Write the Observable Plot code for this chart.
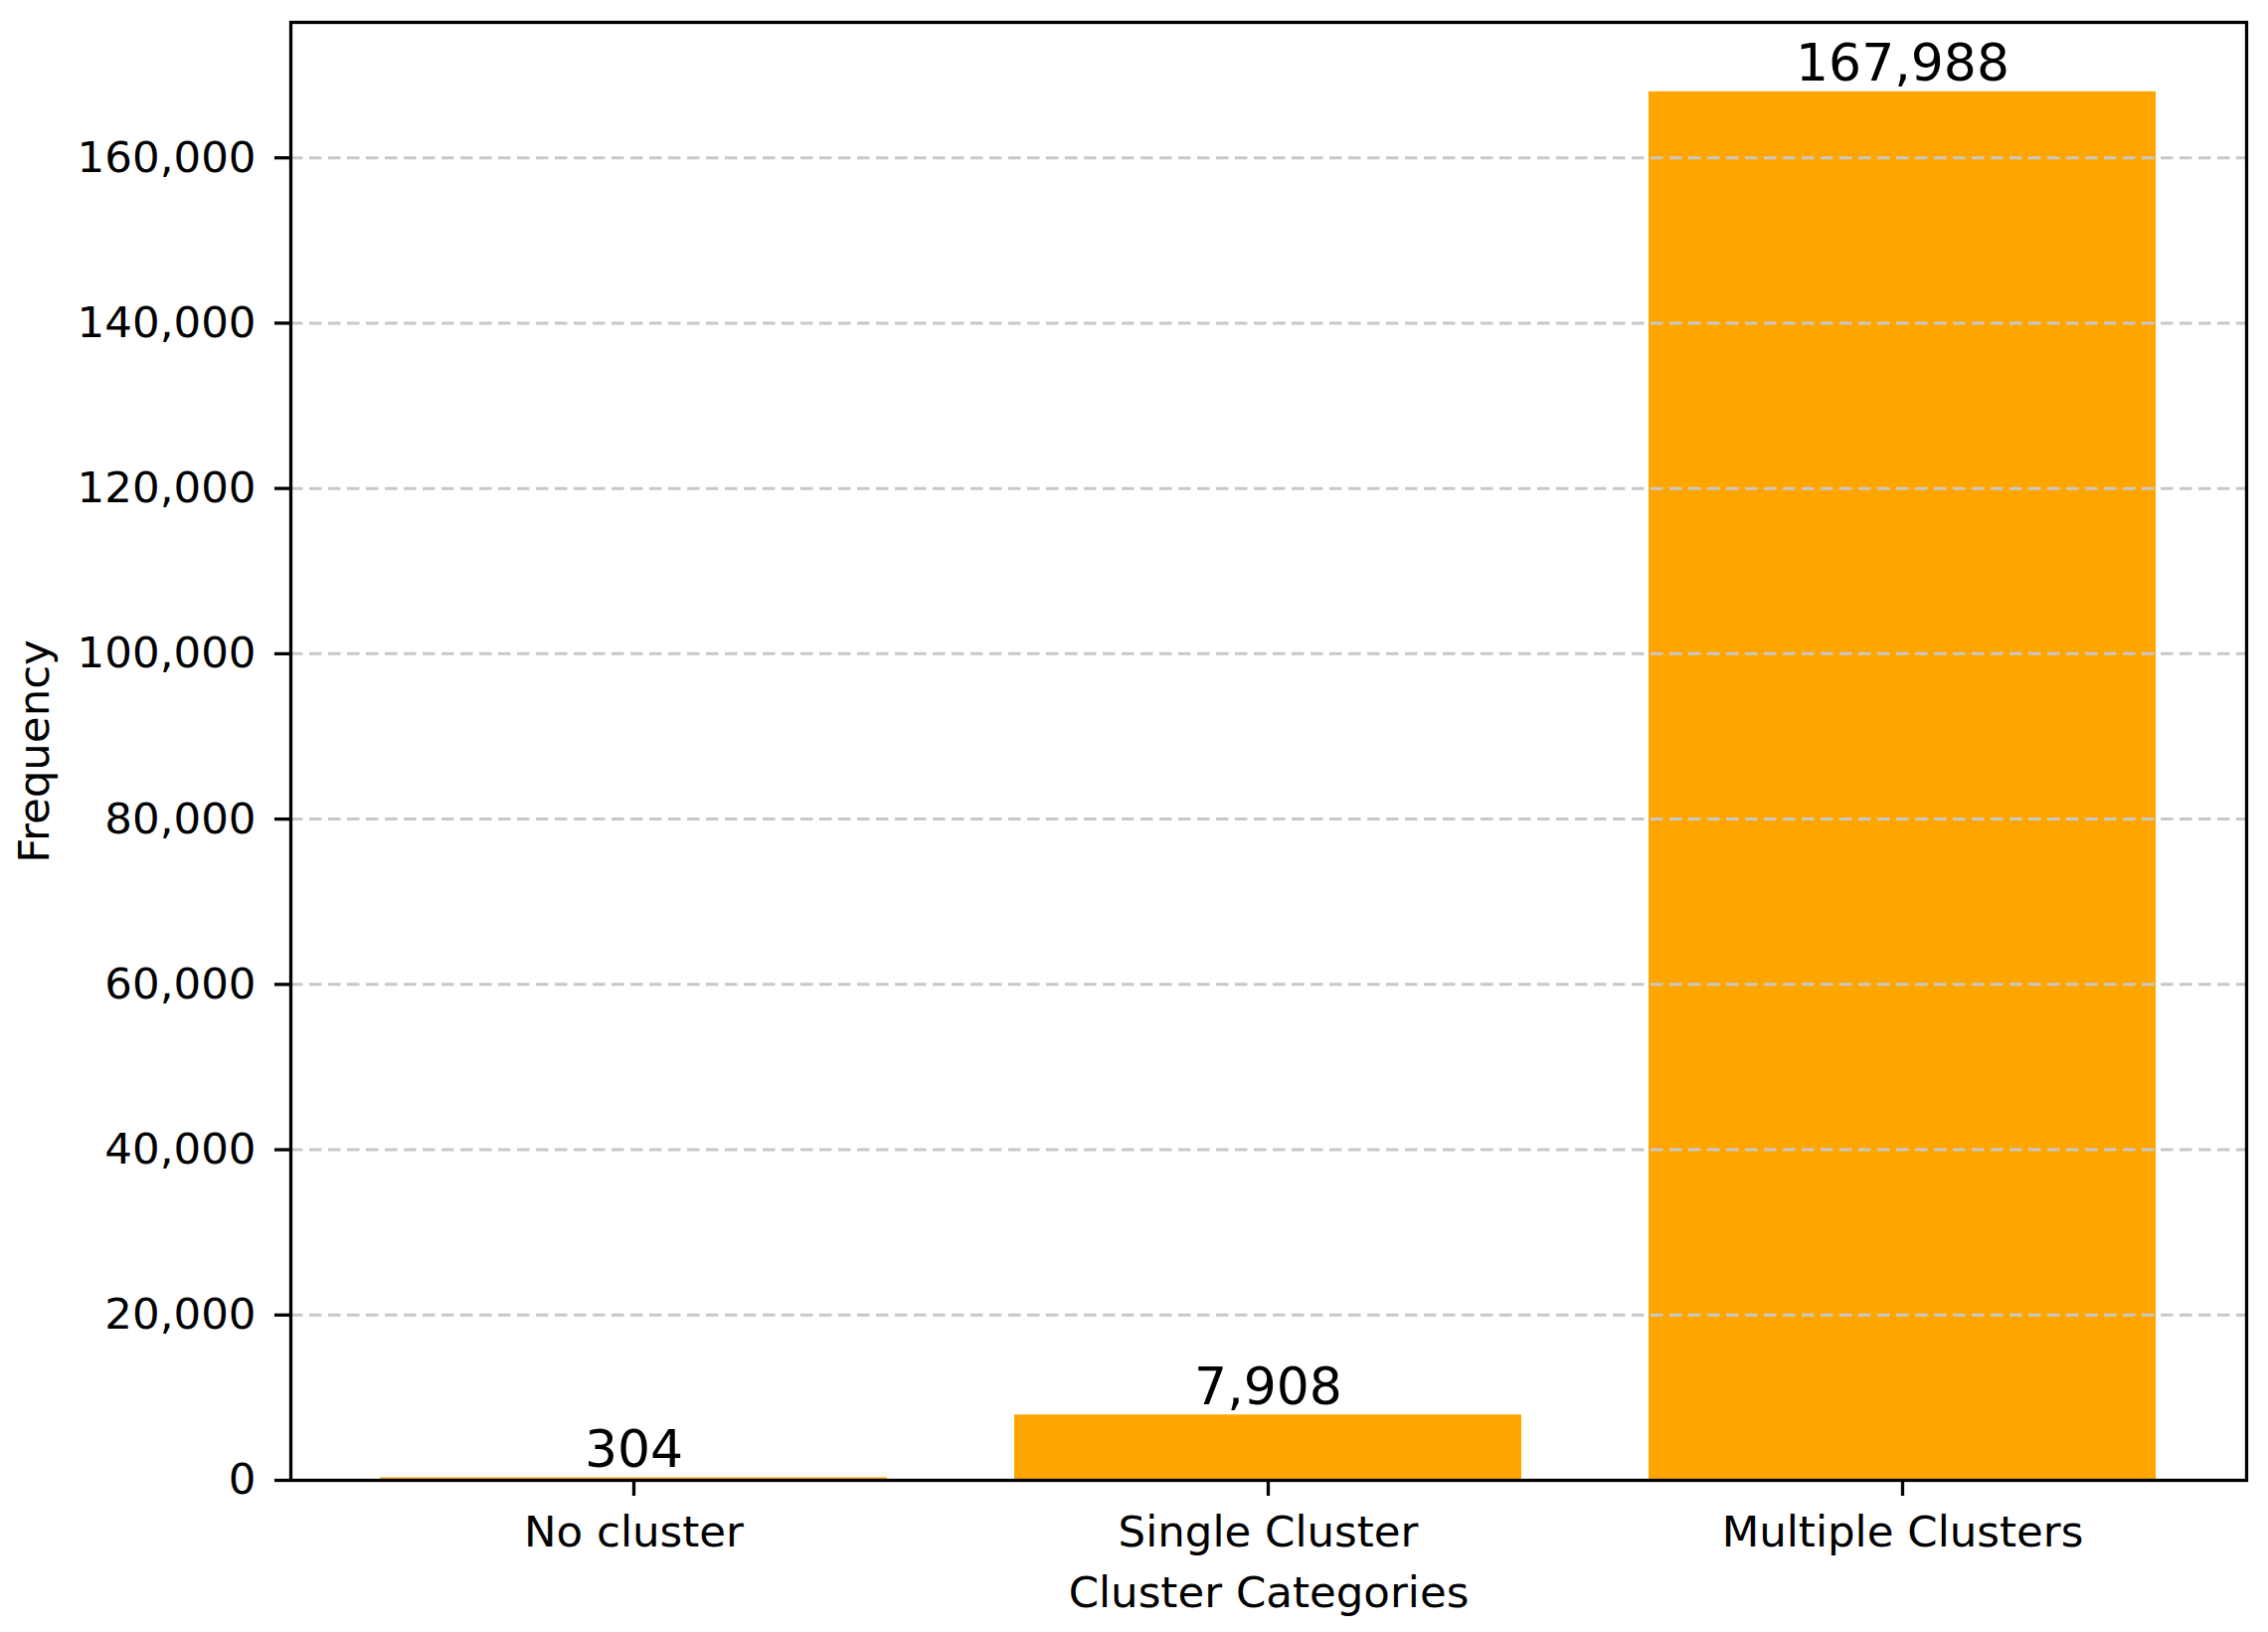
<!DOCTYPE html>
<html>
<head>
<meta charset="utf-8">
<script src="https://cdn.jsdelivr.net/npm/d3@7"></script>
<script src="https://cdn.jsdelivr.net/npm/@observablehq/plot@0.6"></script>
<style>
  html, body { margin: 0; padding: 0; background: white; }
  #chart { width: 2281px; height: 1641px; }
</style>
</head>
<body>
<div id="chart"></div>
<script>
const categories = ["No cluster", "Single Cluster", "Multiple Clusters"];
const frequencies = [304, 7908, 167988];
const yTicks = [0, 20000, 40000, 60000, 80000, 100000, 120000, 140000, 160000];
const xTitle = "Cluster Categories";
const yTitle = "Frequency";

const data = categories.map((c, i) => ({category: c, value: frequencies[i]}));
const fmt = d3.format(",");
const yMax = d3.max(frequencies) * 1.05;

const chart = Plot.plot({
  width: 2281,
  height: 1641,
  marginLeft: 292,
  marginRight: 22,
  marginTop: 22,
  marginBottom: 153,
  style: {fontFamily: "DejaVu Sans", color: "black", background: "white", overflow: "visible"},
  x: {type: "band", domain: categories, paddingInner: 0.2, paddingOuter: 0.14, align: 0.5},
  y: {domain: [0, yMax]},
  marks: [
    Plot.barY(data, {x: "category", y: "value", fill: "#ffa500"}),
    Plot.gridY(yTicks, {stroke: "#c8c8c8", strokeOpacity: 1, strokeWidth: 3, strokeDasharray: "12.5,6.5"}),
    Plot.text(data, {x: "category", y: "value", text: d => fmt(d.value), lineAnchor: "bottom", dy: -11, fontSize: 52, fill: "black"}),
    Plot.axisY({ticks: yTicks, tickFormat: fmt, tickSize: 16, tickPadding: 19, fontSize: 43.5, strokeWidth: 3.3,
      label: yTitle, labelAnchor: "center", labelArrow: "none", labelOffset: 274}),
    Plot.axisX({tickSize: 16, tickPadding: 20, fontSize: 43.5, strokeWidth: 3.3,
      label: xTitle, labelAnchor: "center", labelArrow: "none", labelOffset: 127}),
    Plot.frame({stroke: "black", strokeWidth: 3.3})
  ]
});
document.getElementById("chart").appendChild(chart);
</script>
</body>
</html>
